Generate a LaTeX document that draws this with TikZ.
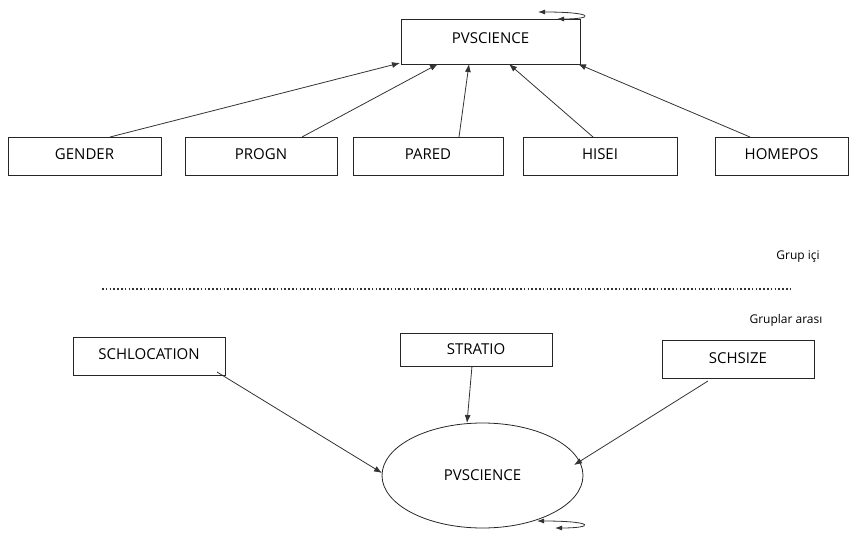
\documentclass[tikz,border=0pt]{standalone}
\usepackage{fontspec}
\setmainfont{Open Sans}
\usetikzlibrary{arrows.meta,shapes.geometric}
\begin{document}
\begin{tikzpicture}[x=1pt,y=-1pt,
  box/.style={draw=black!85, line width=0.8pt, rectangle, inner sep=0pt, font=\fontsize{15}{17}\selectfont},
  arr/.style={draw=black!80, line width=0.8pt, -{Latex[length=8pt,width=6pt]}},
  loop/.style={draw=black!80, line width=0.8pt, {Latex[length=7pt,width=5pt]}-{Latex[length=7pt,width=5pt]}},
  lbl/.style={font=\fontsize{12}{14}\selectfont, inner sep=0pt}]
\useasboundingbox (0,0) rectangle (856,533);
% top part
\node[box, minimum width=179pt, minimum height=45pt] (top) at (490.5,41.5) {\raisebox{6pt}{PVSCIENCE}};
\node[box, minimum width=153pt, minimum height=38pt] (gender) at (84.5,156) {\raisebox{4pt}{GENDER}};
\node[box, minimum width=152pt, minimum height=38pt] (progn) at (261,156) {\raisebox{4pt}{PROGN}};
\node[box, minimum width=150pt, minimum height=38pt] (pared) at (428,156) {\raisebox{4pt}{PARED}};
\node[box, minimum width=154pt, minimum height=38pt] (hisei) at (600,156) {\raisebox{4pt}{HISEI}};
\node[box, minimum width=133pt, minimum height=38pt] (homepos) at (781.5,156) {\raisebox{4pt}{HOMEPOS}};
\coordinate (gs) at (110,137); \coordinate (gt) at (400,63);
\coordinate (ps) at (302,137); \coordinate (pt) at (438,64);
\coordinate (as) at (459,137); \coordinate (at) at (469,64);
\coordinate (hs) at (593,137); \coordinate (ht) at (509,64);
\coordinate (os) at (750,137); \coordinate (ot) at (578,64);
\draw[arr] (gs) -- (gt);
\draw[arr] (ps) -- (pt);
\draw[arr] (as) -- (at);
\draw[arr] (hs) -- (ht);
\draw[arr] (os) -- (ot);
\coordinate (l1a) at (538,12); \coordinate (l1b) at (557,19);
\draw[loop] (l1a) .. controls (595,12) and (595,19) .. (l1b);
% separator
\node[lbl] (gi) at (798,257) {Grup içi};
\coordinate (d1) at (102,289); \coordinate (d2) at (792,289);
\draw[line width=1.4pt, dash pattern=on 1.6pt off 2.2pt, draw=black!80] (d1) -- (d2);
\node[lbl] (ga) at (786,320) {Gruplar arası};
% bottom part
\node[box, minimum width=152pt, minimum height=38pt] (schl) at (149,356) {\raisebox{3.5pt}{SCHLOCATION}};
\node[box, minimum width=152pt, minimum height=33pt] (strat) at (476,350) {\raisebox{2.5pt}{STRATIO}};
\node[box, minimum width=152pt, minimum height=38pt] (schs) at (738,359.5) {\raisebox{3pt}{SCHSIZE}};
\node[draw=black!85, line width=0.8pt, ellipse, minimum width=201pt, minimum height=105pt, inner sep=0pt, font=\fontsize{15}{17}\selectfont] (pv2) at (482.5,475.5) {PVSCIENCE};
\coordinate (ss1) at (217,372); \coordinate (st1) at (382,473);
\coordinate (ss2) at (472,366); \coordinate (st2) at (467,423);
\coordinate (ss3) at (708,381); \coordinate (st3) at (574,465);
\draw[arr] (ss1) -- (st1);
\draw[arr] (ss2) -- (st2);
\draw[arr] (ss3) -- (st3);
\coordinate (l2a) at (537,521); \coordinate (l2b) at (555,528);
\draw[loop] (l2a) .. controls (595,521) and (595,528) .. (l2b);
\end{tikzpicture}
\end{document}
